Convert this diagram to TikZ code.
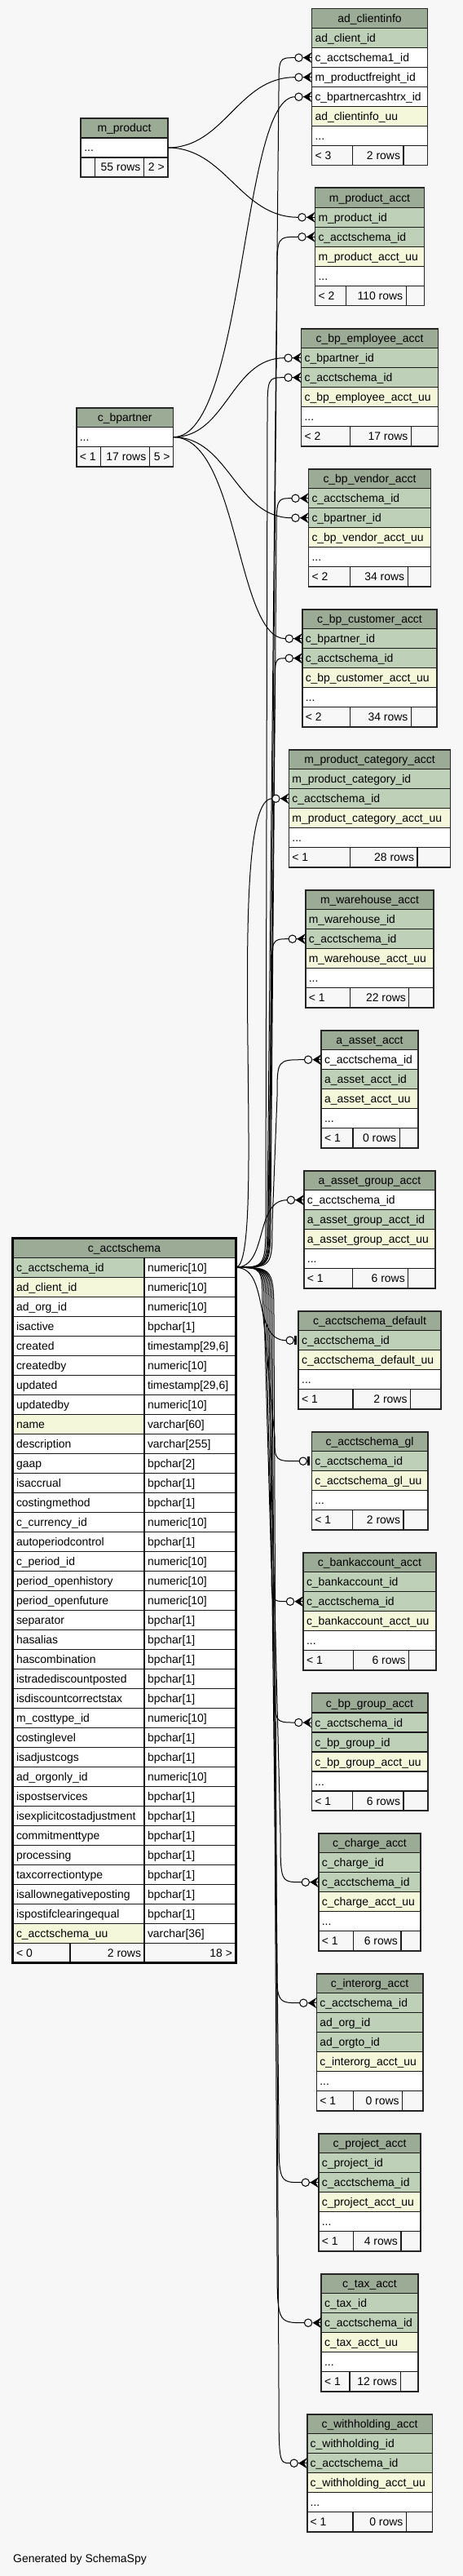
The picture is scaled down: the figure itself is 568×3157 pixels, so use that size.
\documentclass[tikz,border=0pt]{standalone}
\usepackage{fontspec}
\setmainfont{Liberation Sans}
\usetikzlibrary{calc}
\definecolor{hdrgreen}{HTML}{9BAB96}
\definecolor{pkgreen}{HTML}{BED1B8}
\definecolor{uqyellow}{HTML}{F4F7DA}
\definecolor{bgcol}{HTML}{F7F7F7}
\newcommand{\dotsrow}{...}
\newcommand{\tstype}{timestamp[29,6]}
\newcommand{\lefttext}[2]{\hbox to \dimexpr#1bp-8bp\relax{\rule[-3bp]{0pt}{16bp}#2\hfil}}
\newcommand{\righttext}[2]{\hbox to \dimexpr#1bp-8bp\relax{\rule[-3bp]{0pt}{16bp}\hfil#2}}
\newcommand{\dbtable}[6]{\node[headcell, minimum width=#5bp] (#1-0) at (#3,#4) {\rule[-3bp]{0pt}{16bp}#2};
\foreach \txt/\col [count=\i] in {#6} {\node[rowcell=\col, minimum width=#5bp] (#1-\i) at (#3,{#4+24*\i}) {\lefttext{#5}{\txt}}; \coordinate (#1-end) at (#1-\i.south west);}}
\newcommand{\dbfoot}[7]{\node[footcell, minimum width=#2bp] (#1-f1) at (#1-end) {\lefttext{#2}{#5}};
\node[footcell, minimum width=#3bp] (#1-f2) at (#1-f1.north east) {\righttext{#3}{#6}};
\node[footcell, minimum width=#4bp] (#1-f3) at (#1-f2.north east) {\righttext{#4}{#7}};
\draw[tableline] (#1-0.north west) rectangle (#1-f3.south east);}
\newcommand{\manyend}[1]{\coordinate (#1-fk) at ([xshift=-20.7bp]#1.west);
\begin{scope}[shift={(#1.west)}] \fill (-10.5,0) -- (0,-6.5) -- (-3.5,0) -- (0,6.5) -- cycle; \draw[fkline] (-10.5,0) -- (0,0); \draw[fkline, fill=bgcol] (-16,0) circle[radius=4.7]; \end{scope}}
\newcommand{\oneend}[1]{\coordinate (#1-fk) at ([xshift=-15.2bp]#1.west);
\begin{scope}[shift={(#1.west)}] \fill (-5,-5.5) rectangle (-2.5,5.5); \draw[fkline, fill=bgcol] (-10.5,0) circle[radius=4.7]; \end{scope}}
\newcommand{\fklink}[6]{\draw[fkline] let \p1=(#1), \p2=(#2), \n1={sign(\y2-\y1)} in (\p1) .. controls (#3bp,\y1) .. (#3bp,{\y1+\n1*#5bp}) -- (#4bp,{\y2-\n1*#6bp}) .. controls (#4bp,\y2) .. (\p2);}

\begin{document}
\begin{tikzpicture}[x=1bp, y=-1bp, font=\fontsize{14}{16}\selectfont,
  cellbase/.style={draw=black!90, line width=1.2bp, inner xsep=4bp, inner ysep=0pt, outer sep=0pt, minimum height=24bp},
  headcell/.style={cellbase, fill=hdrgreen, anchor=north},
  rowcell/.style={cellbase, fill=#1, anchor=north},
  footcell/.style={cellbase, anchor=north west},
  tableline/.style={draw=black!85, line width=1.6bp},
  fkline/.style={draw=black, line width=1bp}]
\fill[bgcol] (0,0) rectangle (568,3157);
\useasboundingbox (0,0) rectangle (568,3157);

% left column
\dbtable{mp}{m\_product}{152.5}{145}{106.5}{\dotsrow/white}
\dbfoot{mp}{17.4}{59.8}{29.3}{}{55 rows}{2 >}
\dbtable{bp}{c\_bpartner}{153.2}{499.7}{118.8}{\dotsrow/white}
\dbfoot{bp}{29.3}{60.2}{29.3}{< 1}{17 rows}{5 >}
\node[headcell, minimum width=273bp] (acs-0) at (152.5,1517.3) {\rule[-3bp]{0pt}{16bp}c\_acctschema};
\foreach \cname/\ctype/\col [count=\i] in {c\_acctschema\_id/numeric[10]/pkgreen,
 ad\_client\_id/numeric[10]/uqyellow,
 ad\_org\_id/numeric[10]/white,
 isactive/bpchar[1]/white,
 created/\tstype/white,
 createdby/numeric[10]/white,
 updated/\tstype/white,
 updatedby/numeric[10]/white,
 name/varchar[60]/uqyellow,
 description/varchar[255]/white,
 gaap/bpchar[2]/white,
 isaccrual/bpchar[1]/white,
 costingmethod/bpchar[1]/white,
 c\_currency\_id/numeric[10]/white,
 autoperiodcontrol/bpchar[1]/white,
 c\_period\_id/numeric[10]/white,
 period\_openhistory/numeric[10]/white,
 period\_openfuture/numeric[10]/white,
 separator/bpchar[1]/white,
 hasalias/bpchar[1]/white,
 hascombination/bpchar[1]/white,
 istradediscountposted/bpchar[1]/white,
 isdiscountcorrectstax/bpchar[1]/white,
 m\_costtype\_id/numeric[10]/white,
 costinglevel/bpchar[1]/white,
 isadjustcogs/bpchar[1]/white,
 ad\_orgonly\_id/numeric[10]/white,
 ispostservices/bpchar[1]/white,
 isexplicitcostadjustment/bpchar[1]/white,
 commitmenttype/bpchar[1]/white,
 processing/bpchar[1]/white,
 taxcorrectiontype/bpchar[1]/white,
 isallownegativeposting/bpchar[1]/white,
 ispostifclearingequal/bpchar[1]/white,
 c\_acctschema\_uu/varchar[36]/uqyellow} {
  \node[rowcell=\col, minimum width=161bp, anchor=north west] (acs-\i) at (16,{1517.3+24*\i}) {\lefttext{161}{\cname}};
  \node[rowcell=white, minimum width=112bp, anchor=north west] (acs-\i-t) at (177,{1517.3+24*\i}) {\lefttext{112}{\ctype}};
  \coordinate (acs-end) at (acs-\i.south west);
}
\dbfoot{acs}{70}{91}{112}{< 0}{2 rows}{18 >}
\draw[line width=3bp] (acs-0.north west) rectangle (acs-f3.south east);

% right column
\dbtable{ci}{ad\_clientinfo}{453.5}{10.7}{142}{ad\_client\_id/pkgreen,
 c\_acctschema1\_id/white,
 m\_productfreight\_id/white,
 c\_bpartnercashtrx\_id/white,
 ad\_clientinfo\_uu/uqyellow,
 \dotsrow/white}
\dbfoot{ci}{50}{62.5}{29.5}{< 3}{2 rows}{}
\dbtable{mpa}{m\_product\_acct}{453.5}{230.3}{134}{m\_product\_id/pkgreen,
 c\_acctschema\_id/pkgreen,
 m\_product\_acct\_uu/uqyellow,
 \dotsrow/white}
\dbfoot{mpa}{38.1}{73.5}{22.4}{< 2}{110 rows}{}
\dbtable{bpe}{c\_bp\_employee\_acct}{453.5}{402.7}{167.8}{c\_bpartner\_id/pkgreen,
 c\_acctschema\_id/pkgreen,
 c\_bp\_employee\_acct\_uu/uqyellow,
 \dotsrow/white}
\dbfoot{bpe}{60.2}{74.6}{33}{< 2}{17 rows}{}
\dbtable{bpv}{c\_bp\_vendor\_acct}{453.5}{574.7}{150}{c\_acctschema\_id/pkgreen,
 c\_bpartner\_id/pkgreen,
 c\_bp\_vendor\_acct\_uu/uqyellow,
 \dotsrow/white}
\dbfoot{bpv}{51.1}{70.6}{28.3}{< 2}{34 rows}{}
\dbtable{bpc}{c\_bp\_customer\_acct}{453.5}{746.7}{165.5}{c\_bpartner\_id/pkgreen,
 c\_acctschema\_id/pkgreen,
 c\_bp\_customer\_acct\_uu/uqyellow,
 \dotsrow/white}
\dbfoot{bpc}{59}{74.6}{31.9}{< 2}{34 rows}{}
\dbtable{mpc}{m\_product\_category\_acct}{453.5}{918.7}{198.2}{m\_product\_category\_id/pkgreen,
 c\_acctschema\_id/pkgreen,
 m\_product\_category\_acct\_uu/uqyellow,
 \dotsrow/white}
\dbfoot{mpc}{75}{82.6}{40.6}{< 1}{28 rows}{}
\dbtable{mwa}{m\_warehouse\_acct}{453.5}{1090.7}{157.5}{m\_warehouse\_id/pkgreen,
 c\_acctschema\_id/pkgreen,
 m\_warehouse\_acct\_uu/uqyellow,
 \dotsrow/white}
\dbfoot{mwa}{55}{72.1}{30.4}{< 1}{22 rows}{}
\dbtable{aa}{a\_asset\_acct}{453.5}{1262.7}{118.8}{c\_acctschema\_id/white,
 a\_asset\_acct\_id/pkgreen,
 a\_asset\_acct\_uu/uqyellow,
 \dotsrow/white}
\dbfoot{aa}{38.8}{57.2}{22.8}{< 1}{0 rows}{}
\dbtable{aga}{a\_asset\_group\_acct}{453.5}{1434.7}{161.2}{c\_acctschema\_id/white,
 a\_asset\_group\_acct\_id/pkgreen,
 a\_asset\_group\_acct\_uu/uqyellow,
 \dotsrow/white}
\dbfoot{aga}{59.8}{68.1}{33.3}{< 1}{6 rows}{}
\dbtable{acd}{c\_acctschema\_default}{453.5}{1606.7}{174.6}{c\_acctschema\_id/pkgreen,
 c\_acctschema\_default\_uu/uqyellow,
 \dotsrow/white}
\dbfoot{acd}{66.7}{70.6}{37.3}{< 1}{2 rows}{}
\dbtable{agl}{c\_acctschema\_gl}{453.5}{1754.7}{142.4}{c\_acctschema\_id/pkgreen,
 c\_acctschema\_gl\_uu/uqyellow,
 \dotsrow/white}
\dbfoot{agl}{50.4}{62.3}{29.7}{< 1}{2 rows}{}
\dbtable{bka}{c\_bankaccount\_acct}{453.5}{1902.7}{163}{c\_bankaccount\_id/pkgreen,
 c\_acctschema\_id/pkgreen,
 c\_bankaccount\_acct\_uu/uqyellow,
 \dotsrow/white}
\dbfoot{bka}{61.6}{68.1}{33.3}{< 1}{6 rows}{}
\dbtable{bpg}{c\_bp\_group\_acct}{453.5}{2075}{142.4}{c\_acctschema\_id/pkgreen,
 c\_bp\_group\_id/pkgreen,
 c\_bp\_group\_acct\_uu/uqyellow,
 \dotsrow/white}
\dbfoot{bpg}{50.4}{62.3}{29.7}{< 1}{6 rows}{}
\dbtable{cha}{c\_charge\_acct}{453.5}{2246.7}{125.4}{c\_charge\_id/pkgreen,
 c\_acctschema\_id/pkgreen,
 c\_charge\_acct\_uu/uqyellow,
 \dotsrow/white}
\dbfoot{cha}{42.8}{58.3}{24.3}{< 1}{6 rows}{}
\dbtable{ioa}{c\_interorg\_acct}{453.5}{2418.7}{130.4}{c\_acctschema\_id/pkgreen,
 ad\_org\_id/pkgreen,
 ad\_orgto\_id/pkgreen,
 c\_interorg\_acct\_uu/uqyellow,
 \dotsrow/white}
\dbfoot{ioa}{45.3}{60.1}{25}{< 1}{0 rows}{}
\dbtable{pja}{c\_project\_acct}{453.5}{2614.7}{125.4}{c\_project\_id/pkgreen,
 c\_acctschema\_id/pkgreen,
 c\_project\_acct\_uu/uqyellow,
 \dotsrow/white}
\dbfoot{pja}{42.8}{58.3}{24.3}{< 1}{4 rows}{}
\dbtable{txa}{c\_tax\_acct}{453.5}{2786.7}{118.8}{c\_tax\_id/pkgreen,
 c\_acctschema\_id/pkgreen,
 c\_tax\_acct\_uu/uqyellow,
 \dotsrow/white}
\dbfoot{txa}{34.8}{62.3}{21.7}{< 1}{12 rows}{}
\dbtable{wha}{c\_withholding\_acct}{453.5}{2958.7}{153.6}{c\_withholding\_id/pkgreen,
 c\_acctschema\_id/pkgreen,
 c\_withholding\_acct\_uu/uqyellow,
 \dotsrow/white}
\dbfoot{wha}{56.2}{65.5}{31.9}{< 1}{0 rows}{}

% m_product links
\manyend{ci-3}
\manyend{mpa-1}
\draw[fkline] (mp-1.east) to[out=0,in=180] (ci-3-fk);
\draw[fkline] (mp-1.east) to[out=0,in=180] (mpa-1-fk);
% c_bpartner links
\manyend{ci-4}
\manyend{bpe-1}
\manyend{bpv-2}
\manyend{bpc-1}
\draw[fkline] (bp-1.east) to[out=0,in=180,out distance=88bp,in distance=66bp] (ci-4-fk);
\draw[fkline] (bp-1.east) to[out=0,in=180] (bpe-1-fk);
\draw[fkline] (bp-1.east) to[out=0,in=180] (bpv-2-fk);
\draw[fkline] (bp-1.east) to[out=0,in=180,out distance=80bp,in distance=60bp] (bpc-1-fk);
% c_acctschema links
\coordinate (acs-pk) at (acs-1-t.east);
\foreach \t/\a/\b/\s/\e in {ci-2/328/342/70/40, mpa-2/330/340/68/45, bpe-2/326/328/66/50,
 bpv-1/332/339/64/50, bpc-2/331/337/62/45, mwa-2/329/333/58/50, aa-1/334/340/54/45,
 bka-2/324/333/55/40, bpg-1/326/337/58/45, cha-2/328/344/60/60, ioa-1/330/339/62/65,
 pja-2/332/342/64/70, txa-2/334/340/66/80, wha-2/336/342/68/90}
 {\manyend{\t} \fklink{acs-pk}{\t-fk}{\a}{\b}{\s}{\e}}
\manyend{mpc-2}
\draw[fkline] (acs-pk) to[out=0,in=180,out distance=40bp,in distance=60bp] (mpc-2-fk);
\manyend{aga-1}
\draw[fkline] (acs-pk) to[out=0,in=180] (aga-1-fk);
\oneend{acd-1}
\draw[fkline] (acs-pk) to[out=0,in=180] (acd-1-fk);
\oneend{agl-1}
\fklink{acs-pk}{agl-1-fk}{322}{337}{50}{30}

\node[anchor=west, inner sep=0pt] (credit) at (16,3137) {Generated by SchemaSpy};
\end{tikzpicture}
\end{document}
